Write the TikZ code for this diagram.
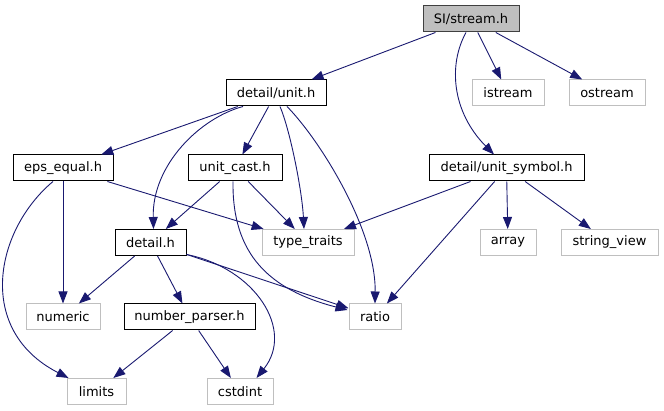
\documentclass[tikz,border=0pt]{standalone}
\usepackage{fontspec}
\setmainfont{DejaVu Sans}
\usetikzlibrary{arrows.meta,calc}
\definecolor{edgeblue}{RGB}{25,25,112}
\definecolor{extgray}{RGB}{191,191,191}
\definecolor{rootgray}{RGB}{64,64,64}

\begin{document}
\begin{tikzpicture}[
    x=1pt, y=-1pt,
    block/.style={rectangle, draw=black, fill=white, minimum height=26pt, inner sep=0pt, line width=1pt, font=\fontsize{13}{15}\selectfont},
    extblock/.style={block, draw=extgray},
    rootblock/.style={block, draw=rootgray, fill=extgray},
    arrow/.style={-{Triangle[length=12pt,width=9pt]}, color=edgeblue, line width=0.9pt}]
  \useasboundingbox (0,0) rectangle (664,411);
  \node[rootblock, minimum width=96pt] (stream) at (471,19) {SI/stream.h};
  \node[block, minimum width=100pt] (unit) at (276,93) {detail/unit.h};
  \node[extblock, minimum width=72pt] (istream) at (508,93) {istream};
  \node[extblock, minimum width=76pt] (ostream) at (607,93) {ostream};
  \node[block, minimum width=100pt] (epsequal) at (63,168) {eps\_equal.h};
  \node[block, minimum width=94pt] (unitcast) at (235,168) {unit\_cast.h};
  \node[block, minimum width=155pt] (unitsymbol) at (506.5,168) {detail/unit\_symbol.h};
  \node[block, minimum width=71pt] (detail) at (150.5,242.5) {detail.h};
  \node[extblock, minimum width=92pt] (typetraits) at (308,242.5) {type\_traits};
  \node[extblock, minimum width=56pt] (array) at (508,242.5) {array};
  \node[extblock, minimum width=97pt] (stringview) at (609.5,242.5) {string\_view};
  \node[extblock, minimum width=74pt] (numeric) at (63,317) {numeric};
  \node[block, minimum width=131pt] (numberparser) at (189.5,317) {number\_parser.h};
  \node[extblock, minimum width=52pt] (ratio) at (375,317) {ratio};
  \node[extblock, minimum width=59pt] (limits) at (96.5,391.5) {limits};
  \node[extblock, minimum width=66pt] (cstdint) at (240,391.5) {cstdint};
  % straight dependencies
  \draw[arrow] (stream) -- (unit);
  \draw[arrow] (stream) -- (istream);
  \draw[arrow] (stream) -- (ostream);
  \draw[arrow] (unit) -- (epsequal);
  \draw[arrow] (unit) -- (unitcast);
  \draw[arrow] (epsequal) -- (numeric);
  \draw[arrow] (epsequal) -- (typetraits);
  \draw[arrow] (unitcast) -- (detail);
  \draw[arrow] (unitcast) -- (typetraits);
  \draw[arrow] (unitsymbol) -- (typetraits);
  \draw[arrow] (unitsymbol) -- (ratio);
  \draw[arrow] (unitsymbol) -- (array);
  \draw[arrow] (unitsymbol) -- (stringview);
  \draw[arrow] (detail) -- (numeric);
  \draw[arrow] (detail) -- (numberparser);
  \draw[arrow] (detail) -- (ratio);
  \draw[arrow] (numberparser) -- (limits);
  \draw[arrow] (numberparser) -- (cstdint);
  % curved dependencies
  \draw[arrow] ($(stream.south)+(-5,0)$) .. controls (448,65) and (452,112) .. ($(unitsymbol.north)+(-12.5,0)$);
  \draw[arrow] ($(unit.south)+(-33,0)$) .. controls (200,118) and (152,165) .. ($(detail.north)+(3,0)$);
  \draw[arrow] ($(unit.south)+(4,0)$) .. controls (290,130) and (302,190) .. ($(typetraits.north)+(-4,0)$);
  \draw[arrow] ($(unit.south)+(11,0)$) .. controls (320,140) and (376,230) .. (ratio.north);
  \draw[arrow] ($(epsequal.south)+(-10,0)$) .. controls (-5,230) and (-25,330) .. ($(limits.north west)+(2,0)$);
  \draw[arrow] ($(unitcast.south)+(-2,0)$) .. controls (232,255) and (270,290) .. ($(ratio.west)+(-1,-7)$);
  \draw[arrow] ($(detail.east)+(0,12)$) .. controls (255,268) and (295,330) .. ($(cstdint.north east)+(-17,0)$);
\end{tikzpicture}
\end{document}
